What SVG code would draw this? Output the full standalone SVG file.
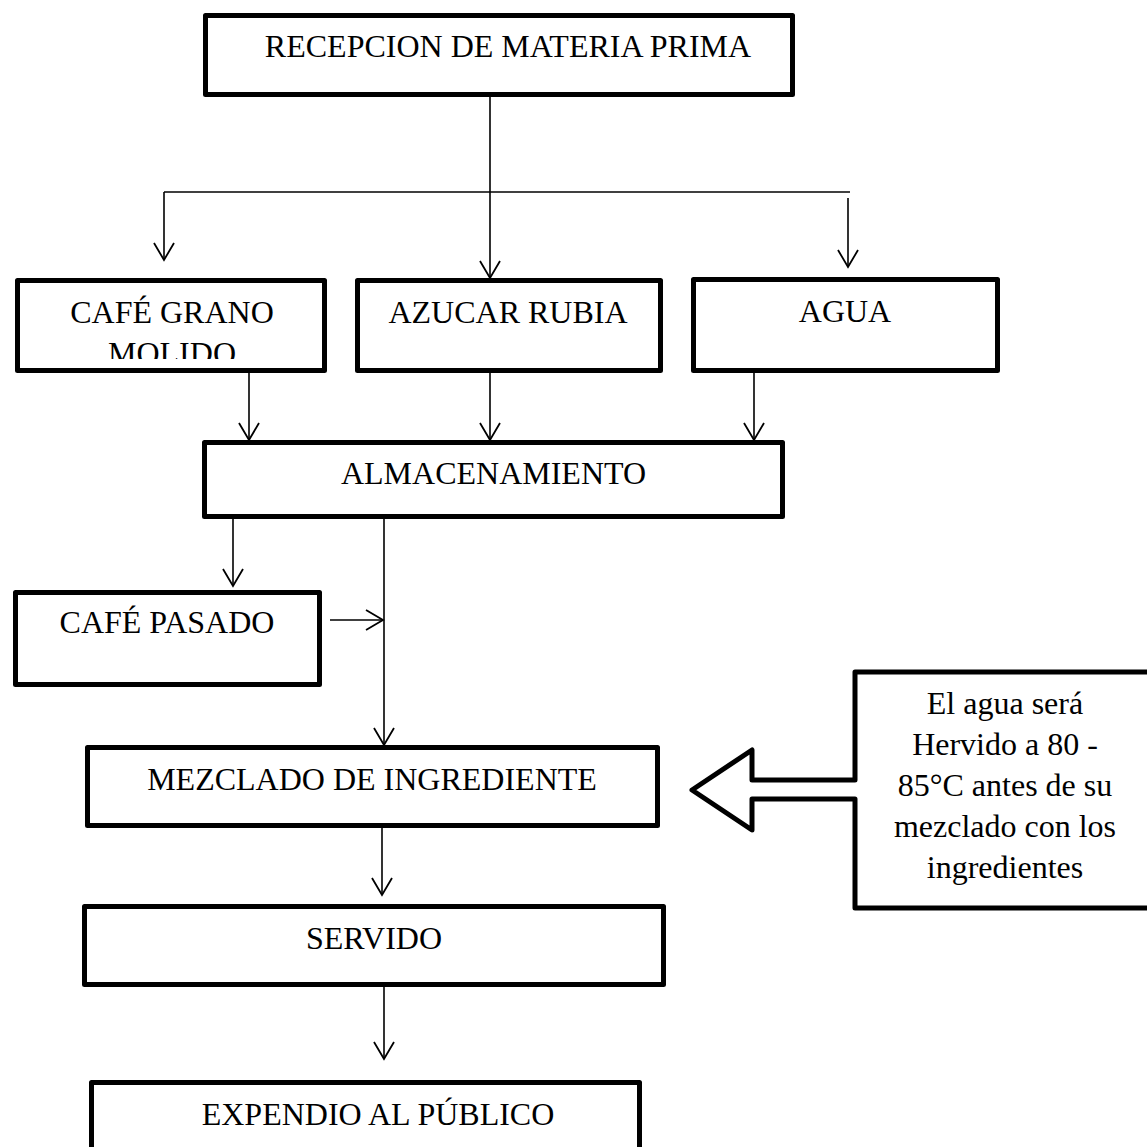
<svg xmlns="http://www.w3.org/2000/svg" width="1147" height="1147" viewBox="0 0 1147 1147">
  <style>
    .box { fill: #fff; stroke: #000; stroke-width: 5; stroke-linejoin: round; }
    .lbl { font-family: "Liberation Serif", "Times New Roman", serif; font-size: 32px; fill: #000; text-anchor: middle; }
    .wire { fill: none; stroke: #000; stroke-width: 1.6; }
  </style>
  <defs>
    <marker id="vee" markerUnits="userSpaceOnUse" markerWidth="24" markerHeight="24" viewBox="-20 -12 22 24" refX="0" refY="0" orient="auto">
      <path d="M-17,-10 L0,0 L-17,10" fill="none" stroke="#000" stroke-width="1.8"/>
    </marker>
    <clipPath id="clipGrano">
      <rect x="20" y="282" width="302" height="77"/>
    </clipPath>
  </defs>
  <rect width="1147" height="1147" fill="#fff"/>

  <!-- connectors -->
  <g id="connectors">
    <line class="wire" x1="490" y1="97" x2="490" y2="278" marker-end="url(#vee)"/>
    <line class="wire" x1="164" y1="192" x2="850" y2="192"/>
    <line class="wire" x1="164" y1="192" x2="164" y2="260" marker-end="url(#vee)"/>
    <line class="wire" x1="848" y1="198" x2="848" y2="267" marker-end="url(#vee)"/>
    <line class="wire" x1="249" y1="373" x2="249" y2="440" marker-end="url(#vee)"/>
    <line class="wire" x1="490" y1="373" x2="490" y2="440" marker-end="url(#vee)"/>
    <line class="wire" x1="754" y1="373" x2="754" y2="440" marker-end="url(#vee)"/>
    <line class="wire" x1="233" y1="519" x2="233" y2="586" marker-end="url(#vee)"/>
    <line class="wire" x1="384" y1="519" x2="384" y2="745" marker-end="url(#vee)"/>
    <line class="wire" x1="330" y1="620" x2="383" y2="620" marker-end="url(#vee)"/>
    <line class="wire" x1="382" y1="828" x2="382" y2="895" marker-end="url(#vee)"/>
    <line class="wire" x1="384" y1="987" x2="384" y2="1059" marker-end="url(#vee)"/>
  </g>

  <g id="recepcion">
    <rect class="box" x="205.5" y="15.5" width="587" height="79"/>
    <text class="lbl" x="508" y="57">RECEPCION DE MATERIA PRIMA</text>
  </g>

  <g id="cafe-grano">
    <rect class="box" x="17.5" y="280.5" width="307" height="90"/>
    <text class="lbl" x="172" y="323">CAFÉ GRANO</text>
    <text class="lbl" x="172" y="364" clip-path="url(#clipGrano)">MOLIDO</text>
  </g>

  <g id="azucar">
    <rect class="box" x="357.5" y="280.5" width="303" height="90"/>
    <text class="lbl" x="508" y="323">AZUCAR RUBIA</text>
  </g>

  <g id="agua">
    <rect class="box" x="693.5" y="279.5" width="304" height="91"/>
    <text class="lbl" x="845" y="322">AGUA</text>
  </g>

  <g id="almacenamiento">
    <rect class="box" x="204.5" y="442.5" width="578" height="74"/>
    <text class="lbl" x="493.5" y="484">ALMACENAMIENTO</text>
  </g>

  <g id="cafe-pasado">
    <rect class="box" x="15.5" y="592.5" width="304" height="92"/>
    <text class="lbl" x="167" y="633">CAFÉ PASADO</text>
  </g>

  <g id="mezclado">
    <rect class="box" x="87.5" y="747.5" width="570" height="78"/>
    <text class="lbl" x="372" y="790">MEZCLADO DE INGREDIENTE</text>
  </g>

  <g id="servido">
    <rect class="box" x="84.5" y="906.5" width="579" height="78"/>
    <text class="lbl" x="374" y="949">SERVIDO</text>
  </g>

  <g id="expendio">
    <rect class="box" x="91.5" y="1082.5" width="548" height="90"/>
    <text class="lbl" x="378" y="1125">EXPENDIO AL PÚBLICO</text>
  </g>

  <!-- note box with left-pointing block arrow -->
  <g id="nota">
    <path class="box" stroke-linejoin="miter" d="M855,672 L1160,672 L1160,908 L855,908 L855,799 L752,799 L752,830 L692,790 L752,750 L752,780 L855,780 Z"/>
    <text class="lbl" x="1005" y="714">El agua será</text>
    <text class="lbl" x="1005" y="755">Hervido a 80 -</text>
    <text class="lbl" x="1005" y="796">85°C antes de su</text>
    <text class="lbl" x="1005" y="837">mezclado con los</text>
    <text class="lbl" x="1005" y="878">ingredientes</text>
  </g>
</svg>
